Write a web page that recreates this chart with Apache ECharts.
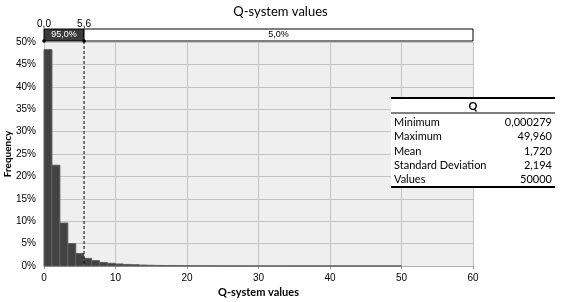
<!DOCTYPE html>
<html><head><meta charset="utf-8">
<script src="https://cdn.jsdelivr.net/npm/echarts@6/dist/echarts.min.js"></script>
<style>html,body{margin:0;padding:0;background:#fff}#c{width:561px;height:302px}</style>
</head><body><div id="c"></div>
<script>
// Histogram bins (width ~1.11 from 0 to 49.96), frequency in %
var binWidth = 49.96 / 45;
var freqPct = [48.3, 22.5, 9.6, 5.0, 2.8, 1.7, 1.2, 0.8, 0.6, 0.45, 0.35, 0.28, 0.2, 0.16, 0.12,
  0.1, 0.08, 0.06, 0.05, 0.04, 0.03, 0.03, 0.02, 0.02, 0.02, 0.01, 0.01, 0.01, 0.01, 0.01,
  0.01, 0.01, 0.01, 0.01, 0.01, 0.01, 0.01, 0.01, 0.01, 0.01, 0.01, 0.01, 0.01, 0.01, 0.01];
// band above the plot
var bandStart = [0, 5.6];
var bandEnd = [5.6, 60];
var bandText = ['95,0%', '5,0%'];
var bandEdges = [0, 5.6];
var bandEdgeLabels = ['0,0', '5,6'];
// statistics table
var statTitle = 'Q';
var statLabels = ['Minimum', 'Maximum', 'Mean', 'Standard Deviation', 'Values'];
var statValues = ['0,000279', '49,960', '1,720', '2,194', '50000'];

var binData = freqPct.map(function (f, i) { return [i * binWidth, (i + 1) * binWidth, f / 100]; });
var bandData = bandStart.map(function (s, i) { return [s, bandEnd[i]]; });
var edgeData = bandEdges.map(function (e) { return [e, 0]; });

var FONT = 'Lato, "Liberation Sans", sans-serif';
var TFONT = '"Liberation Sans", sans-serif';
var chart = echarts.init(document.getElementById('c'), null, {renderer: 'canvas'});

var tableGraphic = [];
var tx = 391, tw = 164, ty = 98;
tableGraphic.push({type: 'rect', shape: {x: tx, y: ty, width: tw, height: 90}, style: {fill: '#fff'}, z: 100});
tableGraphic.push({type: 'line', shape: {x1: tx, y1: ty, x2: tx + tw, y2: ty}, style: {stroke: '#000', lineWidth: 2}, z: 101});
tableGraphic.push({type: 'line', shape: {x1: tx, y1: ty + 15, x2: tx + tw, y2: ty + 15}, style: {stroke: '#000', lineWidth: 1}, z: 101});
tableGraphic.push({type: 'line', shape: {x1: tx, y1: ty + 89, x2: tx + tw, y2: ty + 89}, style: {stroke: '#000', lineWidth: 2}, z: 101});
tableGraphic.push({type: 'text', style: {text: statTitle, x: tx + tw / 2, y: ty + 8, align: 'center', verticalAlign: 'middle', font: 'bold 11px ' + FONT, fill: '#000'}, z: 102});
statLabels.forEach(function (l, i) {
  var yy = ty + 24.5 + i * 14.3;
  tableGraphic.push({type: 'text', style: {text: l, x: tx + 3, y: yy, align: 'left', verticalAlign: 'middle', font: '11px ' + FONT, fill: '#000'}, z: 102});
  tableGraphic.push({type: 'text', style: {text: statValues[i], x: tx + tw - 3, y: yy, align: 'right', verticalAlign: 'middle', font: '11px ' + FONT, fill: '#000'}, z: 102});
});

chart.setOption({
  animation: false,
  title: {text: 'Q-system values', left: 'center', top: 0, textStyle: {fontSize: 13, fontWeight: 'normal', color: '#000', fontFamily: FONT}},
  grid: {left: 44, right: 88, top: 42, bottom: 36, show: true, backgroundColor: '#efefef', borderWidth: 0,
    containLabel: false, outerBoundsMode: 'none'},
  xAxis: {
    type: 'value', min: 0, max: 60, interval: 10,
    name: 'Q-system values', nameLocation: 'middle', nameGap: 21, nameMoveOverlap: false,
    nameTextStyle: {fontSize: 11, fontWeight: 'bold', color: '#000', fontFamily: FONT},
    axisLine: {show: true, lineStyle: {color: '#b0b0b0'}},
    axisTick: {show: true, length: 3, lineStyle: {color: '#999'}},
    axisLabel: {fontSize: 10, color: '#000', margin: 7, fontFamily: TFONT},
    splitLine: {show: true, lineStyle: {color: '#c4c4c4'}}
  },
  yAxis: {
    type: 'value', min: 0, max: 0.5, interval: 0.05,
    name: 'Frequency', nameLocation: 'middle', nameGap: 31, nameMoveOverlap: false,
    nameTextStyle: {fontSize: 10, fontWeight: 'bold', color: '#000', fontFamily: FONT},
    axisLine: {show: false}, axisTick: {show: false},
    axisLabel: {fontSize: 10, color: '#000', margin: 8, fontFamily: TFONT,
      formatter: function (v) { return Math.round(v * 100) + '%'; }},
    splitLine: {show: true, lineStyle: {color: '#c4c4c4'}}
  },
  graphic: tableGraphic,
  series: [
    {
      type: 'custom', data: binData, z: 3,
      renderItem: function (params, api) {
        var p0 = api.coord([api.value(0), api.value(2)]);
        var p1 = api.coord([api.value(1), 0]);
        return {type: 'rect', shape: {x: p0[0], y: p0[1], width: p1[0] - p0[0], height: p1[1] - p0[1]},
          style: {fill: '#424242', stroke: '#5e5e5e', lineWidth: 1}};
      }
    },
    {
      type: 'custom', data: bandData, z: 5, clip: false,
      renderItem: function (params, api) {
        var top = params.coordSys.y;
        var x0 = api.coord([api.value(0), 0])[0];
        var x1 = api.coord([api.value(1), 0])[0];
        var dark = params.dataIndex === 0;
        return {type: 'group', children: [
          {type: 'rect', shape: {x: x0, y: top - 13, width: x1 - x0, height: 12},
            style: {fill: dark ? '#3a3a3a' : '#fff', stroke: '#000', lineWidth: 1}},
          {type: 'text', style: {text: bandText[params.dataIndex], x: (x0 + x1) / 2, y: top - 7, align: 'center', verticalAlign: 'middle',
            font: '9px ' + TFONT, fill: dark ? '#fff' : '#000'}}
        ]};
      }
    },
    {
      type: 'custom', data: edgeData, z: 6, clip: false,
      renderItem: function (params, api) {
        var top = params.coordSys.y;
        var p = api.coord([api.value(0), 0]);
        var ch = [
          {type: 'text', style: {text: bandEdgeLabels[params.dataIndex], x: p[0], y: top - 18, align: 'center', verticalAlign: 'middle',
            font: '10px ' + TFONT, fill: '#000'}},
          {type: 'circle', shape: {cx: p[0], cy: top - 1, r: 1.8}, style: {fill: '#000'}}
        ];
        if (api.value(0) > 0) {
          ch.push({type: 'line', shape: {x1: p[0], y1: top - 1, x2: p[0], y2: p[1]},
            style: {stroke: '#000', lineWidth: 1, lineDash: [3, 2]}});
        }
        return {type: 'group', children: ch};
      }
    }
  ]
});
</script></body></html>
